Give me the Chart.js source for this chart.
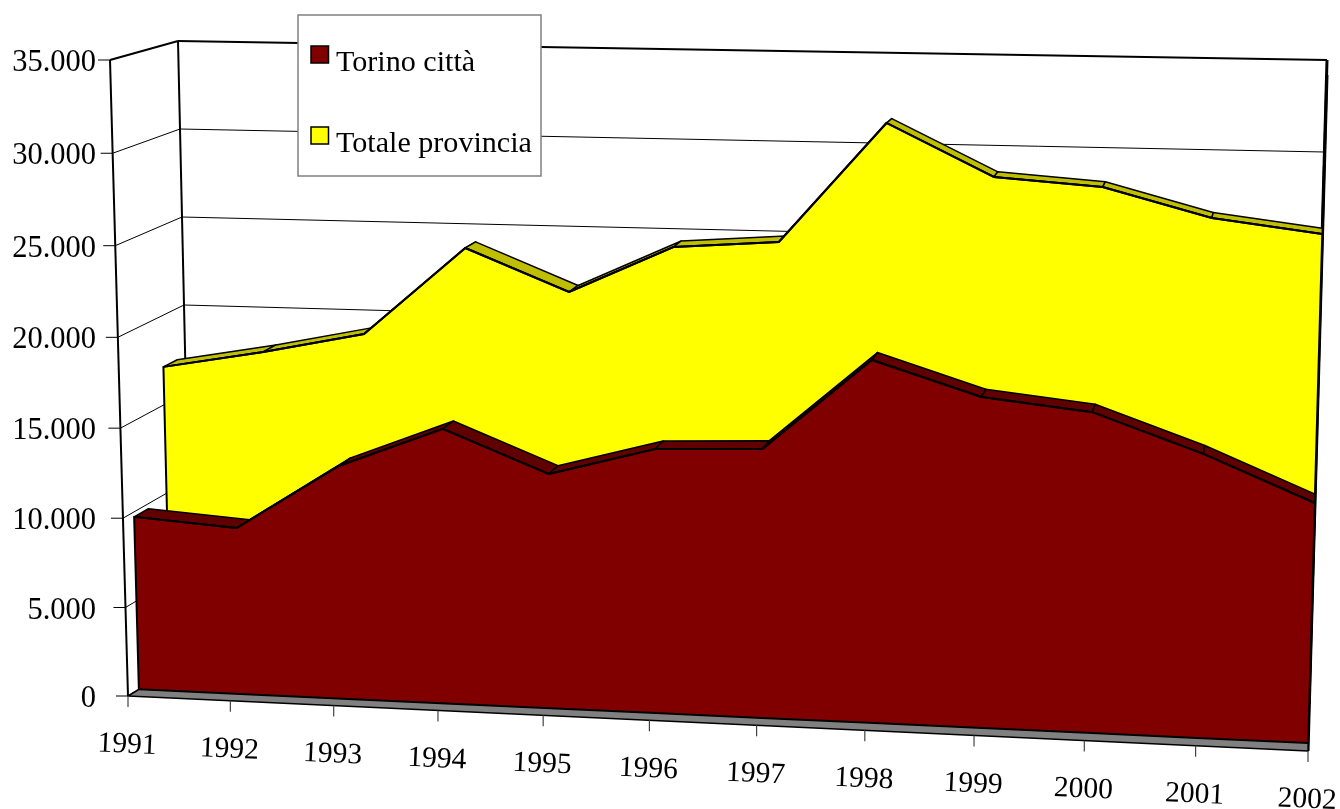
<!DOCTYPE html>
<html>
<head>
<meta charset="utf-8">
<style>html,body{margin:0;padding:0;background:#fff}canvas{display:block}</style>
<script src="https://cdn.jsdelivr.net/npm/chart.js@4"></script>
</head>
<body>
<canvas id="c" width="1340" height="809"></canvas>
<script>
const years = ['1991','1992','1993','1994','1995','1996','1997','1998','1999','2000','2001','2002'];
const torinoCitta = [9720,9310,12950,15170,12900,14440,14640,19570,17770,17140,15120,12730];
const totaleProvincia = [17120,18120,19280,24200,21910,24520,24930,31510,28710,28290,26750,26030];
const yMax = 35000, yStep = 5000;

const FONT = '"Liberation Serif"';
// box corners in canvas pixels: front (z=0) and back (z=1) planes
const box = {
  flb:[128,696], flt:[110,60], frb:[1308,751], frt:[1327,75],
  blb:[192,657], blt:[178,41], brb:[1309,704], brt:[1327,60]
};
const perspX = 0.95, perspYFront = 0.97;
const depth = [[0.17,0.39],[0.67,0.88]];
const lerp = (a,b,t)=>a+(b-a)*t;

function project(chart, xp, yp, z){
  const a = chart.chartArea;
  const u = (xp-a.left)/(a.right-a.left);
  const v0 = (a.bottom-yp)/(a.bottom-a.top);
  const t = u*perspX/(1+u*(perspX-1));
  const py = lerp(perspYFront,1,z);
  const v = v0*py/(1+v0*(py-1));
  const out=[];
  for(const k of [0,1]){
    const fb=lerp(box.flb[k],box.frb[k],t), ft=lerp(box.flt[k],box.frt[k],t);
    const bb=lerp(box.blb[k],box.brb[k],t), bt=lerp(box.blt[k],box.brt[k],t);
    out.push(lerp(lerp(fb,ft,v),lerp(bb,bt,v),z));
  }
  return out;
}
function pt(chart,i,val,z){
  return project(chart, chart.scales.x.getPixelForValue(i), chart.scales.y.getPixelForValue(val), z);
}
function seg(ctx,p,q,w,c){
  ctx.beginPath();ctx.moveTo(p[0],p[1]);ctx.lineTo(q[0],q[1]);
  ctx.lineWidth=w;ctx.strokeStyle=c||'#000';ctx.stroke();
}

const box3d = {
  id:'box3d',
  afterDatasetsUpdate(chart){
    chart.data.datasets.forEach((ds,d)=>{
      const meta = chart.getDatasetMeta(d);
      meta.data.forEach((el,i)=>{
        const p = pt(chart,i,ds.data[i],depth[d][0]);
        el.x=p[0]; el.y=p[1];
      });
    });
  },
  beforeDatasetsDraw(chart){
    const ctx=chart.ctx, n=years.length-1;
    ctx.save();
    ctx.lineJoin='round';
    // walls: grid lines, value ticks and labels
    chart.scales.y.ticks.forEach(tk=>{
      const v=tk.value;
      const w=v===yMax?2:1;
      seg(ctx,pt(chart,0,v,0),pt(chart,0,v,1),w);
      seg(ctx,pt(chart,0,v,1),pt(chart,n,v,1),w);
      seg(ctx,pt(chart,n,v,1),pt(chart,n,v,0),1);
      const f=pt(chart,0,v,0);
      seg(ctx,[f[0]-12,f[1]],f,1);
      ctx.fillStyle='#000';
      ctx.font='30.5px '+FONT;ctx.textAlign='right';ctx.textBaseline='middle';
      ctx.fillText(tk.label,96,f[1]+3);
    });
    seg(ctx,pt(chart,0,0,0),pt(chart,0,yMax,0),2);
    seg(ctx,pt(chart,0,0,1),pt(chart,0,yMax,1),2);
    seg(ctx,pt(chart,n,0,0),pt(chart,n,yMax,0),3);
    seg(ctx,pt(chart,n,0,1),pt(chart,n,yMax,1),3);
    // floor
    const q=[pt(chart,0,0,0),pt(chart,n,0,0),pt(chart,n,0,1),pt(chart,0,0,1)];
    ctx.beginPath();q.forEach((p,i)=>i?ctx.lineTo(p[0],p[1]):ctx.moveTo(p[0],p[1]));ctx.closePath();
    ctx.fillStyle='#808080';ctx.fill();ctx.lineWidth=1.5;ctx.strokeStyle='#000';ctx.stroke();
    // category ticks and labels
    ctx.fillStyle='#000';
    ctx.font='29.5px '+FONT;ctx.textAlign='center';ctx.textBaseline='middle';
    years.forEach((y,i)=>{
      const f=pt(chart,i,0,0);
      seg(ctx,f,[f[0],f[1]+11],1.2,'#444');
      ctx.save();
      ctx.translate(f[0]-1,f[1]+49);
      ctx.rotate(2.6*Math.PI/180);
      ctx.fillText(y,0,0);
      ctx.restore();
    });
    ctx.restore();
  },
  beforeDatasetDraw(chart,args){
    const d=args.index, ds=chart.data.datasets[d], ctx=chart.ctx, [z0,z1]=depth[d];
    ctx.save();
    ctx.lineJoin='round';ctx.strokeStyle='#000';
    // top ribbons
    for(let i=0;i<ds.data.length-1;i++){
      const a=pt(chart,i,ds.data[i],z0),b=pt(chart,i+1,ds.data[i+1],z0),
            c=pt(chart,i+1,ds.data[i+1],z1),e=pt(chart,i,ds.data[i],z1);
      ctx.beginPath();ctx.moveTo(a[0],a[1]);ctx.lineTo(b[0],b[1]);ctx.lineTo(c[0],c[1]);ctx.lineTo(e[0],e[1]);ctx.closePath();
      ctx.fillStyle=ds.ribbonColor;ctx.fill();ctx.lineWidth=1.5;ctx.stroke();
    }
    // front face
    ctx.beginPath();
    ds.data.forEach((v,i)=>{const p=pt(chart,i,v,z0);i?ctx.lineTo(p[0],p[1]):ctx.moveTo(p[0],p[1]);});
    for(let i=ds.data.length-1;i>=0;i--){const p=pt(chart,i,0,z0);ctx.lineTo(p[0],p[1]);}
    ctx.closePath();
    ctx.fillStyle=ds.backgroundColor;ctx.fill();ctx.lineWidth=2;ctx.stroke();
    ctx.restore();
  },
  afterDatasetsDraw(chart){
    const ctx=chart.ctx;
    ctx.save();
    ctx.fillStyle='#fff';ctx.fillRect(298,15,243,161);
    ctx.strokeStyle='#808080';ctx.lineWidth=1.5;ctx.strokeRect(298,15,243,161);
    const ys=[[46,71],[127,152]];
    chart.data.datasets.forEach((ds,d)=>{
      ctx.fillStyle=ds.backgroundColor;ctx.fillRect(311,ys[d][0],17.5,17);
      ctx.strokeStyle='#000';ctx.lineWidth=1.5;ctx.strokeRect(311,ys[d][0],17.5,17);
      ctx.fillStyle='#000';ctx.font='30.1px '+FONT;ctx.textAlign='left';ctx.textBaseline='alphabetic';
      ctx.fillText(ds.label,336,ys[d][1]);
    });
    ctx.restore();
  }
};

new Chart(document.getElementById('c'),{
  type:'line',
  data:{labels:years,datasets:[
    {label:'Torino città',data:torinoCitta,backgroundColor:'#800000',ribbonColor:'#600000',borderColor:'#000',borderWidth:2,pointRadius:0,fill:false,tension:0,clip:false},
    {label:'Totale provincia',data:totaleProvincia,backgroundColor:'#ffff00',ribbonColor:'#bfbf00',borderColor:'#000',borderWidth:2,pointRadius:0,fill:false,tension:0,clip:false}
  ]},
  plugins:[box3d],
  options:{
    responsive:false,animation:false,
    layout:{padding:{left:0,right:32,top:60,bottom:113}},
    plugins:{legend:{display:false},tooltip:{enabled:false}},
    scales:{
      x:{type:'category',display:false,offset:false},
      y:{min:0,max:yMax,
        afterFit(s){s.width=110;},
        grid:{display:false},border:{display:false},
        ticks:{display:false,stepSize:yStep,
          callback:v=>String(v).replace(/\B(?=(\d{3})+$)/g,'.')}}
    }
  }
});
</script>
</body>
</html>
